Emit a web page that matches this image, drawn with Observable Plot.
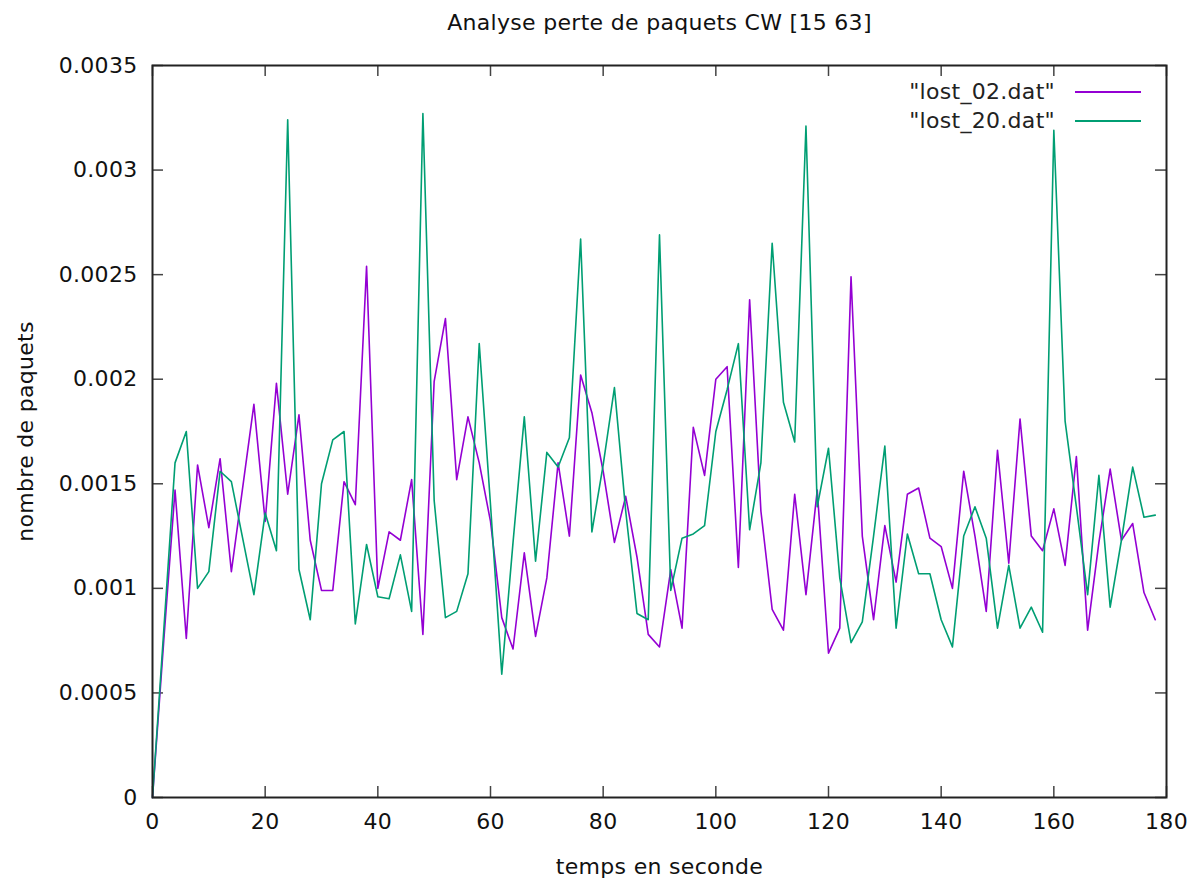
<!DOCTYPE html>
<html>
<head>
<meta charset="utf-8">
<script src="https://cdn.jsdelivr.net/npm/d3@7"></script>
<script src="https://cdn.jsdelivr.net/npm/@observablehq/plot@0.6"></script>
<style>
  body { margin: 0; background: #fff; font-family: "DejaVu Sans", sans-serif; }
  #wrap { position: relative; width: 1203px; height: 882px; }
  #wrap svg text { letter-spacing: 0.3px; }
  .lg-text { position: absolute; width: 300px; text-align: right; font-size: 22px; line-height: 22px; color: #222; white-space: nowrap; letter-spacing: 0.3px; }
  .lg-line { position: absolute; width: 66px; height: 2px; }
</style>
</head>
<body>
<div id="wrap"></div>
<script>
const time = [0,2,4,6,8,10,12,14,16,18,20,22,24,26,28,30,32,34,36,38,40,42,44,46,48,50,52,54,56,58,
  60,62,64,66,68,70,72,74,76,78,80,82,84,86,88,90,92,94,96,98,100,102,104,106,108,110,112,114,116,118,
  120,122,124,126,128,130,132,134,136,138,140,142,144,146,148,150,152,154,156,158,160,162,164,166,168,170,172,174,176,178];

const lost02 = [0,0.00075,0.00147,0.00076,0.00159,0.00129,0.00162,0.00108,0.00148,0.00188,
  0.00132,0.00198,0.00145,0.00183,0.00123,0.00099,0.00099,0.00151,0.0014,0.00254,
  0.001,0.00127,0.00123,0.00152,0.00078,0.00199,0.00229,0.00152,0.00182,0.0016,
  0.00132,0.00086,0.00071,0.00117,0.00077,0.00105,0.0016,0.00125,0.00202,0.00184,
  0.00156,0.00122,0.00144,0.00115,0.00078,0.00072,0.00109,0.00081,0.00177,0.00154,
  0.002,0.00206,0.0011,0.00238,0.00137,0.0009,0.0008,0.00145,0.00097,0.00147,
  0.00069,0.00081,0.00249,0.00125,0.00085,0.0013,0.00103,0.00145,0.00148,0.00124,
  0.0012,0.001,0.00156,0.00125,0.00089,0.00166,0.00112,0.00181,0.00125,0.00118,
  0.00138,0.00111,0.00163,0.0008,0.00122,0.00157,0.00123,0.00131,0.00098,0.00085];

const lost20 = [0,0.0008,0.0016,0.00175,0.001,0.00108,0.00156,0.00151,0.00124,0.00097,
  0.00136,0.00118,0.00324,0.00109,0.00085,0.0015,0.00171,0.00175,0.00083,0.00121,
  0.00096,0.00095,0.00116,0.00089,0.00327,0.00142,0.00086,0.00089,0.00107,0.00217,
  0.0014,0.00059,0.00122,0.00182,0.00113,0.00165,0.00158,0.00172,0.00267,0.00127,
  0.00159,0.00196,0.00137,0.00088,0.00085,0.00269,0.00099,0.00124,0.00126,0.0013,
  0.00175,0.00195,0.00217,0.00128,0.0016,0.00265,0.00189,0.0017,0.00321,0.00139,
  0.00167,0.00105,0.00074,0.00084,0.00125,0.00168,0.00081,0.00126,0.00107,0.00107,
  0.00085,0.00072,0.00125,0.00139,0.00124,0.00081,0.00111,0.00081,0.00091,0.00079,
  0.00319,0.0018,0.00139,0.00097,0.00154,0.00091,0.00123,0.00158,0.00134,0.00135];

const seriesNames = ['"lost_02.dat"', '"lost_20.dat"'];
const seriesColors = ["#9400d3", "#009e73"];
const xTicks = [0,20,40,60,80,100,120,140,160,180];
const yTicks = [0,0.0005,0.001,0.0015,0.002,0.0025,0.003,0.0035];
const yTickLabels = ["0","0.0005","0.001","0.0015","0.002","0.0025","0.003","0.0035"];
const titleText = "Analyse perte de paquets CW [15 63]";
const xLabel = "temps en seconde";
const yLabel = "nombre de paquets";

const rows = [];
[lost02, lost20].forEach((vals, si) => {
  vals.forEach((v, i) => rows.push({t: time[i], v, s: seriesNames[si]}));
});

const W = 1203, H = 882, mL = 152, mR = 37, mT = 65, mB = 85;
const plotW = W - mL - mR, plotH = H - mT - mB;
const tk = 11;
const fs = 22;
const tickStyle = {stroke: "#444", strokeWidth: 1.5};

const chart = Plot.plot({
  width: W, height: H,
  marginLeft: mL, marginRight: mR, marginTop: mT, marginBottom: mB,
  style: {fontFamily: "DejaVu Sans, sans-serif", fontSize: fs + "px", color: "#111", background: "#fff", overflow: "visible"},
  x: {domain: [0, 180], label: null},
  y: {domain: [0, 0.0035], label: null},
  color: {domain: seriesNames, range: seriesColors},
  marks: [
    Plot.tickX(xTicks, {x: d => d, insetTop: plotH - tk, ...tickStyle}),
    Plot.tickX(xTicks, {x: d => d, insetBottom: plotH - tk, ...tickStyle}),
    Plot.tickY(yTicks, {y: d => d, insetRight: plotW - tk, ...tickStyle}),
    Plot.tickY(yTicks, {y: d => d, insetLeft: plotW - tk, ...tickStyle}),
    Plot.line(rows, {x: "t", y: "v", stroke: "s", z: "s", strokeWidth: 1.6}),
    Plot.frame({stroke: "#222", strokeWidth: 2}),
    Plot.axisX({ticks: xTicks, tickSize: 0, tickPadding: 16, tickFormat: d => String(d), label: null, fontSize: fs}),
    Plot.axisY({ticks: yTicks, tickSize: 0, tickPadding: 15, tickFormat: d => yTickLabels[yTicks.indexOf(d)], label: null, fontSize: fs}),
    Plot.text([titleText], {frameAnchor: "top", dy: -43, text: d => d, textAnchor: "middle", lineAnchor: "middle", fontSize: fs}),
    Plot.text([xLabel], {frameAnchor: "bottom", dy: 69, text: d => d, textAnchor: "middle", lineAnchor: "middle", fontSize: fs}),
    Plot.text([yLabel], {frameAnchor: "left", dx: -127, text: d => d, textAnchor: "middle", lineAnchor: "middle", rotate: -90, fontSize: fs})
  ]
});

const wrap = document.getElementById("wrap");
wrap.appendChild(chart);

// legend (inside the plot area, top right, like gnuplot's key)
const legendRowsY = [92, 121];
seriesNames.forEach((name, i) => {
  const t = document.createElement("div");
  t.className = "lg-text";
  t.textContent = name;
  t.style.left = (1055 - 300) + "px";
  t.style.top = (legendRowsY[i] - 11) + "px";
  wrap.appendChild(t);
  const l = document.createElement("div");
  l.className = "lg-line";
  l.style.left = "1075px";
  l.style.top = (legendRowsY[i] - 1) + "px";
  l.style.background = seriesColors[i];
  wrap.appendChild(l);
});
</script>
</body>
</html>
